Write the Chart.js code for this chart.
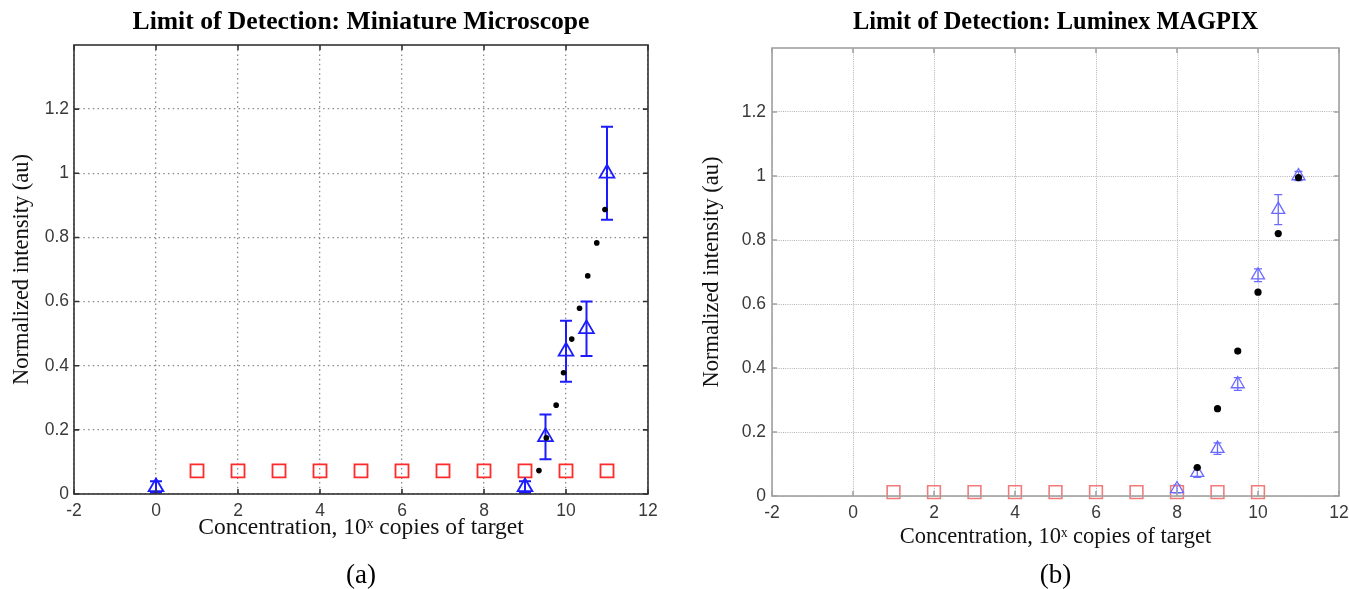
<!DOCTYPE html>
<html>
<head>
<meta charset="utf-8">
<script src="https://cdn.jsdelivr.net/npm/chart.js@4.4.1/dist/chart.umd.min.js"></script>
<style>
  html, body { margin: 0; padding: 0; background: #fff; overflow: hidden; }
  #wrap { position: relative; width: 1349px; height: 589px; }
  canvas { position: absolute; top: 0; }
  #panelA { left: 0; }
  #panelB { left: 674px; }
</style>
</head>
<body>
<div id="wrap">
  <canvas id="panelA" width="674" height="589"></canvas>
  <canvas id="panelB" width="675" height="589"></canvas>
</div>
<script>
// ---- axis ranges ----
const xRange = [-2, 12];
const yRange = [0, 1.4];
const yTickTop = 1.2;

// ---- (a) miniature microscope ----
const micControlX = [1, 2, 3, 4, 5, 6, 7, 8, 9, 10, 11];
const micControlY = [0.072, 0.072, 0.072, 0.072, 0.072, 0.072, 0.072, 0.072, 0.072, 0.072, 0.072];
const micTargetX = [0, 9, 9.5, 10, 10.5, 11];
const micTargetY = [0.022, 0.022, 0.178, 0.445, 0.515, 1.0];
const micTargetErr = [0.018, 0.018, 0.07, 0.095, 0.085, 0.145];
const micFitX = [9.34, 9.52, 9.76, 9.94, 10.14, 10.33, 10.53, 10.75, 10.95];
const micFitY = [0.073, 0.175, 0.277, 0.378, 0.483, 0.579, 0.68, 0.783, 0.887];

// ---- (b) Luminex MAGPIX ----
const magControlX = [1, 2, 3, 4, 5, 6, 7, 8, 9, 10];
const magControlY = [0.012, 0.012, 0.012, 0.012, 0.012, 0.012, 0.012, 0.012, 0.012, 0.012];
const magTargetX = [8, 8.5, 9, 9.5, 10, 10.5, 11];
const magTargetY = [0.022, 0.073, 0.148, 0.35, 0.69, 0.895, 1.0];
const magTargetErr = [0.012, 0.015, 0.018, 0.02, 0.02, 0.047, 0.014];
const magFitX = [8.5, 9, 9.5, 10, 10.5, 11];
const magFitY = [0.089, 0.273, 0.453, 0.637, 0.82, 0.995];

// ---- labels ----
const xTitle = 'Concentration, 10ˣ copies of target';
const yTitle = 'Normalized intensity (au)';

const TAG_SIZE = 27;
const YTITLE_SIZE = 22.5;
const TICK_SIZE = 17.5;

const pts = (xs, ys) => xs.map((x, i) => ({ x, y: ys[i] }));
const fmt = v => String(+Number(v).toFixed(1));

// closed box with short inward tick marks on every side
const frame = {
  id: 'frame',
  afterDraw(chart, args, o) {
    const { ctx, chartArea: a, scales: { x, y } } = chart;
    ctx.save();
    ctx.strokeStyle = o.color;
    ctx.lineWidth = o.width;
    ctx.beginPath();
    x.ticks.forEach(t => {
      const px = x.getPixelForValue(t.value);
      ctx.moveTo(px, a.bottom); ctx.lineTo(px, a.bottom - o.tick);
      ctx.moveTo(px, a.top); ctx.lineTo(px, a.top + o.tick);
    });
    y.ticks.forEach(t => {
      const py = y.getPixelForValue(t.value);
      ctx.moveTo(a.left, py); ctx.lineTo(a.left + o.tick, py);
      ctx.moveTo(a.right, py); ctx.lineTo(a.right - o.tick, py);
    });
    ctx.stroke();
    ctx.strokeRect(a.left, a.top, a.right - a.left, a.bottom - a.top);
    ctx.restore();
  }
};

// vertical error bars for datasets that carry an `errors` array
const errorBars = {
  id: 'errorBars',
  beforeDatasetsDraw(chart) {
    const { ctx, scales: { y } } = chart;
    chart.data.datasets.forEach((ds, i) => {
      if (!ds.errors) return;
      const meta = chart.getDatasetMeta(i);
      ctx.save();
      ctx.strokeStyle = ds.errorColor;
      ctx.lineWidth = ds.errorWidth;
      ds.data.forEach((p, j) => {
        const el = meta.data[j];
        const top = y.getPixelForValue(p.y + ds.errors[j]);
        const bot = y.getPixelForValue(p.y - ds.errors[j]);
        const c = ds.errorCap;
        ctx.beginPath();
        ctx.moveTo(el.x, top); ctx.lineTo(el.x, bot);
        if (c > 0) {
          ctx.moveTo(el.x - c, top); ctx.lineTo(el.x + c, top);
          ctx.moveTo(el.x - c, bot); ctx.lineTo(el.x + c, bot);
        }
        ctx.stroke();
      });
      ctx.restore();
    });
  }
};

function makePanel(canvas, p) {
  const titleLH = p.titleSize * 1.2;
  const tagLH = TAG_SIZE * 1.0;
  const xtLH = p.xTitleSize * 1.2;
  const ytLH = YTITLE_SIZE * 1.2;
  const xScaleBottom = 589 - tagLH;
  return new Chart(canvas, {
    type: 'scatter',
    data: {
      datasets: [
        {
          data: pts(p.fitX, p.fitY), clip: false,
          pointStyle: 'circle', pointRadius: p.dotR, pointHoverRadius: p.dotR,
          backgroundColor: '#000', borderColor: '#000', borderWidth: 0
        },
        {
          data: pts(p.targetX, p.targetY), clip: false,
          pointStyle: 'triangle', pointRadius: p.triR, pointHoverRadius: p.triR,
          backgroundColor: 'rgba(0,0,0,0)', borderColor: p.blue, borderWidth: p.triW,
          errors: p.targetErr, errorColor: p.blue, errorWidth: p.errW, errorCap: p.cap
        },
        {
          data: pts(p.controlX, p.controlY), clip: false,
          pointStyle: 'rect', pointRadius: p.sqR, pointHoverRadius: p.sqR,
          backgroundColor: 'rgba(0,0,0,0)', borderColor: p.red, borderWidth: p.sqW
        }
      ]
    },
    options: {
      responsive: false,
      animation: false,
      devicePixelRatio: 1,
      events: [],
      layout: { autoPadding: false, padding: { left: 0, top: 0, right: p.padRight, bottom: 0 } },
      plugins: {
        legend: { display: false },
        tooltip: { enabled: false },
        title: {
          display: true, text: p.title, fullSize: false,
          color: '#000',
          font: { family: 'Liberation Serif', size: p.titleSize, weight: 'bold', lineHeight: 1.2 },
          padding: { top: p.titleY - titleLH / 2, bottom: p.areaTop - (p.titleY + titleLH / 2) }
        },
        subtitle: {
          display: true, text: p.tag, position: 'bottom', fullSize: false,
          color: '#000',
          font: { family: 'Liberation Serif', size: TAG_SIZE, weight: 'normal', lineHeight: 1.0 },
          padding: { top: 0, bottom: 0 }
        },
        frame: { color: p.axisColor, width: p.axisW, tick: 5 }
      },
      scales: {
        x: {
          type: 'linear', min: xRange[0], max: xRange[1],
          afterFit: s => {
            s.height = xScaleBottom - p.areaBottom;
            s.paddingLeft = 0;
            s.paddingRight = 0;
          },
          ticks: {
            stepSize: 2, padding: 7, maxRotation: 0, autoSkip: false,
            color: p.tickColor, font: { family: 'Liberation Sans', size: TICK_SIZE },
            callback: fmt
          },
          grid: { color: p.gridColor, lineWidth: p.gridW, drawTicks: false },
          border: { display: false, dash: p.gridDash },
          title: {
            display: true, text: xTitle, color: '#111',
            font: { family: 'Liberation Serif', size: p.xTitleSize, lineHeight: 1.2 },
            padding: { top: 0, bottom: xScaleBottom - p.xTitleY - xtLH / 2 }
          }
        },
        y: {
          type: 'linear', min: yRange[0], max: yRange[1],
          afterFit: s => {
            s.width = p.yAxisW;
            s.paddingTop = 0;
            s.paddingBottom = 0;
          },
          afterBuildTicks: s => { s.ticks = s.ticks.filter(t => t.value <= yTickTop + 1e-9); },
          ticks: {
            stepSize: 0.2, padding: p.yTickPad,
            color: p.tickColor, font: { family: 'Liberation Sans', size: TICK_SIZE },
            callback: fmt
          },
          grid: { color: p.gridColor, lineWidth: p.gridW, drawTicks: false },
          border: { display: false, dash: p.gridDash },
          title: {
            display: true, text: yTitle, color: '#111',
            font: { family: 'Liberation Serif', size: YTITLE_SIZE, lineHeight: 1.2 },
            padding: { top: p.yTitleX - ytLH / 2, bottom: 0 }
          }
        }
      }
    },
    plugins: [errorBars, frame]
  });
}

makePanel(document.getElementById('panelA'), {
  title: 'Limit of Detection: Miniature Microscope', tag: '(a)',
  controlX: micControlX, controlY: micControlY,
  targetX: micTargetX, targetY: micTargetY, targetErr: micTargetErr,
  fitX: micFitX, fitY: micFitY,
  blue: '#1c1cff', red: '#ff2a2a',
  dotR: 2.8, triR: 8.5, triW: 1.8, errW: 2, cap: 6, sqR: 9.2, sqW: 1.8,
  axisColor: '#333', axisW: 1.6, tickColor: '#3a3a3a',
  gridColor: '#8c8c8c', gridW: 1.3, gridDash: [1.5, 3.2],
  padRight: 26, yAxisW: 74, yTickPad: 5, yTitleX: 22,
  titleSize: 25.6, xTitleSize: 23.5,
  titleY: 22, areaTop: 45, areaBottom: 494, xTitleY: 528
});

makePanel(document.getElementById('panelB'), {
  title: 'Limit of Detection: Luminex MAGPIX', tag: '(b)',
  controlX: magControlX, controlY: magControlY,
  targetX: magTargetX, targetY: magTargetY, targetErr: magTargetErr,
  fitX: magFitX, fitY: magFitY,
  blue: '#6a6aff', red: '#f27a7a',
  dotR: 3.6, triR: 7.5, triW: 1.3, errW: 1.3, cap: 4, sqR: 9, sqW: 1.6,
  axisColor: '#a2a2a2', axisW: 1.6, tickColor: '#3a3a3a',
  gridColor: '#b4b4b4', gridW: 1, gridDash: [1, 1.2],
  padRight: 10, yAxisW: 98, yTickPad: 6, yTitleX: 38,
  titleSize: 24.4, xTitleSize: 22.5,
  titleY: 23, areaTop: 48, areaBottom: 496, xTitleY: 537
});
</script>
</body>
</html>
